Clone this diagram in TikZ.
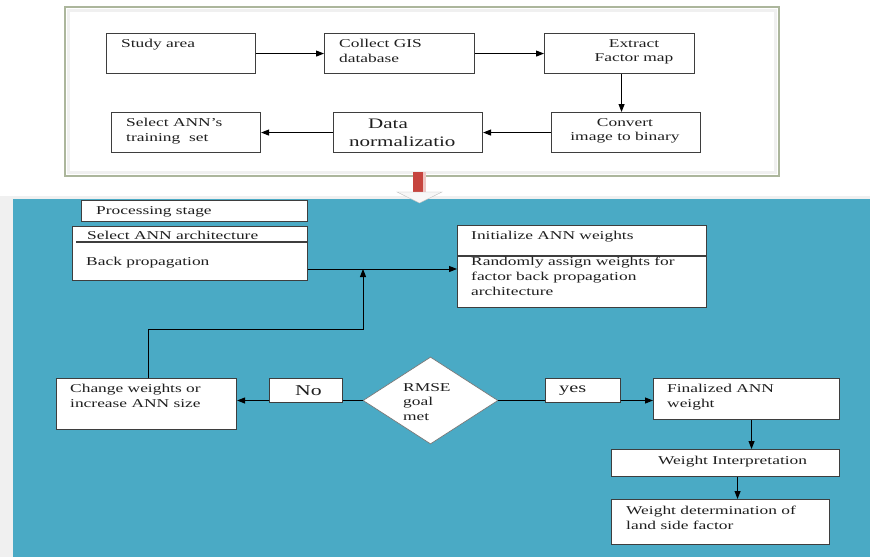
\documentclass[tikz,border=0pt]{standalone}
\usepackage{fontspec}
\setmainfont[FakeStretch=1.45]{Liberation Serif}
\usetikzlibrary{shapes.geometric,arrows.meta}
\definecolor{panelblue}{RGB}{74,170,197}
\definecolor{framegreen}{RGB}{172,182,156}
\definecolor{boxline}{RGB}{62,62,62}
\definecolor{arrowred}{RGB}{198,68,62}
\begin{document}
\begin{tikzpicture}[x=1pt,y=-1pt,
		box/.style={rectangle, draw=boxline, fill=white, line width=1.1pt, anchor=north west, inner sep=0pt},
		txt/.style={anchor=north west, inner sep=0pt, align=left, text=black!88, font=\fontsize{12}{14.7}\selectfont},
		link/.style={line width=1pt, -{Triangle[length=8pt,width=6pt]}}]
			\useasboundingbox (0,0) rectangle (870,557);
			\fill[white] (0,0) rectangle (870,557);
			\draw[framegreen, line width=1.5pt] (65,7) rectangle (779,176);
			\draw[gray!12, line width=3pt] (68.5,10.5) rectangle (775.5,172.5);
			\fill[gray!12] (0,196) rectangle (870,557);
			\fill[panelblue] (13,199) rectangle (870,557);
			\fill[arrowred] (413,172) rectangle (423,193);
			\fill[arrowred!30] (423,172) rectangle (426,193);
			\filldraw[fill=gray!6, draw=gray!50] (397,192) -- (442,192) -- (419.5,203) -- cycle;

			\node[box, minimum width=149pt, minimum height=40pt] (study) at (106,33) {};
			\node[box, minimum width=150pt, minimum height=40pt] (collect) at (324,33) {};
			\node[box, minimum width=150pt, minimum height=40pt] (extract) at (544,33) {};
			\node[box, minimum width=149pt, minimum height=40pt] (convert) at (551,112) {};
			\node[box, minimum width=149pt, minimum height=40pt] (datanorm) at (333,112) {};
			\node[box, minimum width=149pt, minimum height=40pt] (trainset) at (111,112) {};
			\node[txt] (study-t) at (121,39) {Study area};
			\node[txt] (collect-t) at (339,39) {Collect GIS\\database};
			\node[txt, anchor=north, align=center] (extract-t) at (634,39) {Extract\\Factor map};
			\node[txt, anchor=north, align=center] (convert-t) at (625,118) {Convert\\image to binary};
			\node[txt, font=\fontsize{14.5}{17.5}\selectfont] (datanorm-t) at (349,119) {\hspace*{19pt}Data\\normalizatio};
			\node[txt] (trainset-t) at (126,118) {Select ANN's\\training\ \ set};
			\draw[link] (study) -- (collect);
			\draw[link] (collect) -- (extract);
			\draw[link] ([xshift=2pt]extract.south) -- ([xshift=2pt]extract.south |- convert.north);
			\draw[link] (convert) -- (datanorm);
			\draw[link] (datanorm) -- (trainset);

			\node[box, minimum width=226pt, minimum height=21pt] (stage) at (81,200) {};
			\node[box, minimum width=235pt, minimum height=54pt] (arch) at (72,226) {};
			\node[box, minimum width=249pt, minimum height=82pt] (init) at (457,225) {};
			\node[box, minimum width=180pt, minimum height=51pt] (change) at (56,378) {};
			\node[diamond, draw=boxline!70, fill=white, line width=0.7pt, minimum width=135pt, minimum height=87pt, inner sep=0pt] (goal) at (430.5,400.5) {};
			\node[box, minimum width=186pt, minimum height=41pt] (final) at (653,378) {};
			\node[box, minimum width=228pt, minimum height=27pt] (interp) at (611,449) {};
			\node[box, minimum width=218pt, minimum height=45pt] (determ) at (611,499) {};
			\draw[boxline, line width=1.1pt] ([shift={(4,16)}]arch.north west) -- ([shift={(0,16)}]arch.north east);
			\draw[boxline, line width=1.1pt] ([shift={(0,31)}]init.north west) -- ([shift={(0,31)}]init.north east);

			\coordinate (join) at (363,269);
			\coordinate (bend) at (363,329);
			\draw[link] (arch.east |- join) -- (init.west |- join);
			\draw[link] ([xshift=2pt]change.north) |- (bend) -- (join);
			\draw[link] (goal.west) -- (change.east |- goal.west);
			\draw[link] (goal.east) -- (final.west |- goal.east);
			\draw[link] ([xshift=5pt]final.south) -- ([xshift=5pt]final.south |- interp.north);
			\draw[link] ([xshift=12pt]interp.south) -- ([xshift=12pt]interp.south |- determ.north);
			\node[box, minimum width=73pt, minimum height=24pt] (no) at (269,378) {};
			\node[box, minimum width=75pt, minimum height=24pt] (yes) at (545,378) {};

			\node[txt] (stage-t) at (96,206) {Processing stage};
			\node[txt] (arch-t) at (87,231) {Select ANN architecture};
			\node[txt] (backprop-t) at (86,257) {Back propagation};
			\node[txt] (init-t) at (471,231) {Initialize ANN weights};
			\node[txt] (random-t) at (471,257) {Randomly assign weights for\\factor back propagation\\architecture};
			\node[txt] (change-t) at (70,384) {Change weights or\\increase ANN size};
			\node[txt, font=\fontsize{15}{17}\selectfont] (no-t) at (295,385) {No};
			\node[txt] (goal-t) at (403,383) {RMSE\\goal\\met};
			\node[txt, font=\fontsize{14}{17}\selectfont] (yes-t) at (559,386) {yes};
			\node[txt] (final-t) at (667,384) {Finalized ANN\\weight};
			\node[txt] (interp-t) at (658,456) {Weight Interpretation};
			\node[txt] (determ-t) at (626,506) {Weight determination of\\land side factor};
		\end{tikzpicture}
\end{document}
